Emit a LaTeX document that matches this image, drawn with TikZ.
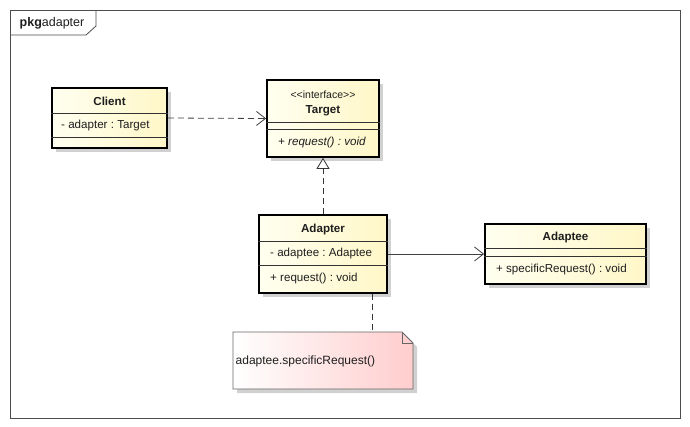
\documentclass[tikz,border=0pt]{standalone}
\usepackage{fontspec}
\setmainfont{Liberation Sans}
\usetikzlibrary{arrows.meta,shadows,calc}
\definecolor{clsL}{RGB}{255,255,240}
\definecolor{clsR}{RGB}{255,247,200}
\definecolor{noteR}{RGB}{255,205,205}
\definecolor{txt}{RGB}{30,30,30}
\frenchspacing
\begin{document}
\begin{tikzpicture}[x=1pt,y=-1pt,
  font=\fontsize{11.6}{13}\selectfont, text=txt,
  cls/.style={draw=black, line width=1.8pt, left color=clsL, right color=clsR,
    inner sep=0pt, drop shadow={shadow xshift=4pt, shadow yshift=-4pt, fill=black!18, opacity=1}},
  divider/.style={line width=0.9pt, draw=black!80},
  lbl/.style={inner sep=0pt},
  attr/.style={inner sep=0pt, anchor=west},
  dep/.style={draw=black!75, line width=0.8pt, dash pattern=on 6pt off 4pt,
    -{Straight Barb[length=9pt,width=14pt,line width=0.8pt]}},
  assoc/.style={draw=black!75, line width=0.8pt,
    -{Straight Barb[length=9pt,width=14pt,line width=0.8pt]}},
  realize/.style={draw=black!80, line width=0.9pt, dash pattern=on 6pt off 4pt,
    -{Triangle[open, length=11pt, width=13pt, line width=0.8pt, fill=white]}},
  anchorline/.style={draw=black!80, line width=0.9pt, dash pattern=on 6pt off 4pt},
]
\useasboundingbox (0,0) rectangle (690,427);
\fill[white] (0,0) rectangle (690,427);

% package frame
\draw[black!70, line width=0.8pt] (10,10) rectangle (680,418);
\draw[black!70, line width=0.8pt] (10,35) -- (86,35) -- (96,26) -- (96,10);
\node[attr, font=\fontsize{12.5}{14}\selectfont] (pkg) at (19.5,23) {\textbf{pkg}adapter};

% Client
\node[cls, minimum width=115pt, minimum height=60pt] (client) at (109.5,118) {};
\draw[divider] (client.west |- 0,113) -- (client.east |- 0,113);
\draw[divider] (client.west |- 0,137) -- (client.east |- 0,137);
\node[lbl] (clientname) at (109.5,101) {\bfseries Client};
\node[attr] (clientattr) at (61,125.5) {- adapter : Target};

% Target
\node[cls, minimum width=112pt, minimum height=77pt] (target) at (323,118.5) {};
\draw[divider] (target.west |- 0,122) -- (target.east |- 0,122);
\draw[divider] (target.west |- 0,129) -- (target.east |- 0,129);
\node[lbl, font=\fontsize{10.5}{12}\selectfont] (stereo) at (323,95) {<\kern0pt<interface>\kern0pt>};
\node[lbl] (targetname) at (323,111) {\bfseries Target};
\node[attr] (targetop) at (278,143) {\itshape + request() : void};

% Adapter
\node[cls, minimum width=128pt, minimum height=78pt] (adapter) at (323,254) {};
\draw[divider] (adapter.west |- 0,241) -- (adapter.east |- 0,241);
\draw[divider] (adapter.west |- 0,265) -- (adapter.east |- 0,265);
\node[lbl] (adaptername) at (323,229.5) {\bfseries Adapter};
\node[attr] (adapterattr) at (270,253.5) {- adaptee : Adaptee};
\node[attr] (adapterop) at (270,279) {+ request() : void};

% Adaptee
\node[cls, minimum width=161pt, minimum height=60pt] (adaptee) at (565.5,254) {};
\draw[divider] (adaptee.west |- 0,248) -- (adaptee.east |- 0,248);
\draw[divider] (adaptee.west |- 0,256) -- (adaptee.east |- 0,256);
\node[lbl] (adapteename) at (565.5,237.5) {\bfseries Adaptee};
\node[attr] (adapteeop) at (496,270) {+ specificRequest() : void};

% Note
\coordinate (nA) at (233,332);
\coordinate (nB) at (402,332);
\coordinate (nC) at (413,343);
\coordinate (nD) at (413,389);
\coordinate (nE) at (233,389);
\fill[black!18] ($(nA)+(4,4)$) -- ($(nB)+(4,4)$) -- ($(nC)+(4,4)$) -- ($(nD)+(4,4)$) -- ($(nE)+(4,4)$) -- cycle;
\shade[left color=white, right color=noteR] (nA) -- (nB) -- (nC) -- (nD) -- (nE) -- cycle;
\draw[black!60, line width=0.8pt] (nA) -- (nB) -- (nC) -- (nD) -- (nE) -- cycle;
\draw[black!60, line width=0.8pt] (nB) -- (402,343) -- (nC);
\node[attr, font=\fontsize{12}{14}\selectfont] (notetext) at (235.5,361) {adaptee.specificRequest()};
\coordinate (noteTop) at (372,332);

% connectors
\draw[dep] (client.east) -- (target.west);
\draw[realize] (adapter.north) -- (target.south);
\draw[assoc] (adapter.east) -- (adaptee.west);
\draw[anchorline] (adapter.south -| noteTop) -- (noteTop);
\end{tikzpicture}
\end{document}
